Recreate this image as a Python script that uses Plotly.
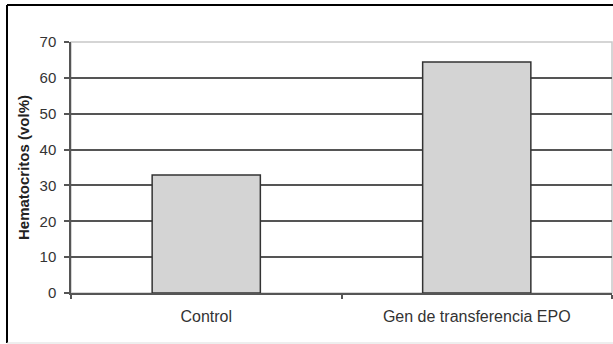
import plotly.graph_objects as go

categories = ["Control", "Gen de transferencia EPO"]
values = [32.9, 64.4]
y_ticks = [0, 10, 20, 30, 40, 50, 60, 70]
y_title = "Hematocritos (vol%)"

W, H = 613, 344
L, R, T, B = 71, 1, 42, 51
pw, ph = W - L - R, H - T - B

def px_x(px):
    return (px - L) / pw

def px_y(py):
    return (H - B - py) / ph

fig = go.Figure(go.Bar(
    x=categories, y=values, width=0.4,
    marker=dict(color="#d4d4d4", line=dict(color="#333333", width=1.5)),
))

shapes = [
    dict(type="rect", xref="paper", yref="paper", x0=0, x1=1, y0=0, y1=1,
         line=dict(color="#c8c8c8", width=1.5), layer="below"),
    dict(type="line", xref="paper", yref="paper", x0=px_x(7), x1=px_x(7),
         y0=px_y(5), y1=px_y(343), line=dict(color="#000000", width=2)),
    dict(type="line", xref="paper", yref="paper", x0=px_x(7), x1=px_x(620),
         y0=px_y(5), y1=px_y(5), line=dict(color="#000000", width=2)),
    dict(type="line", xref="paper", yref="paper", x0=px_x(7), x1=px_x(620),
         y0=px_y(343), y1=px_y(343), line=dict(color="#dddddd", width=1)),
]

fig.update_layout(
    width=W, height=H,
    margin=dict(l=L, r=R, t=T, b=B, pad=0, autoexpand=False),
    paper_bgcolor="white", plot_bgcolor="white",
    showlegend=False,
    font=dict(family="Liberation Sans, Arial, sans-serif", size=12, color="#333333"),
    shapes=shapes,
    xaxis=dict(
        automargin=False,
        showline=True, linecolor="#555555", linewidth=1.5,
        ticks="outside", ticklen=4, tickcolor="#555555", tickwidth=1.5,
        tickson="boundaries", showgrid=False,
        tickfont=dict(size=16, color="#333333"),
        ticklabelstandoff=8,
    ),
    yaxis=dict(
        automargin=False,
        range=[0, 70], tickvals=y_ticks,
        showline=True, linecolor="#555555", linewidth=1.5,
        ticks="outside", ticklen=5, tickcolor="#555555", tickwidth=1.5,
        showgrid=True, gridcolor="#555555", gridwidth=1.5,
        zeroline=False,
        tickfont=dict(size=15, color="#333333"),
        ticklabelstandoff=5,
        title=dict(text="<b>" + y_title + "</b>", font=dict(size=15, color="#222222"), standoff=6),
    ),
)

fig.write_html("out.html", config={"displayModeBar": False},
               post_script="document.body.style.margin='0';document.body.style.overflow='hidden';")
